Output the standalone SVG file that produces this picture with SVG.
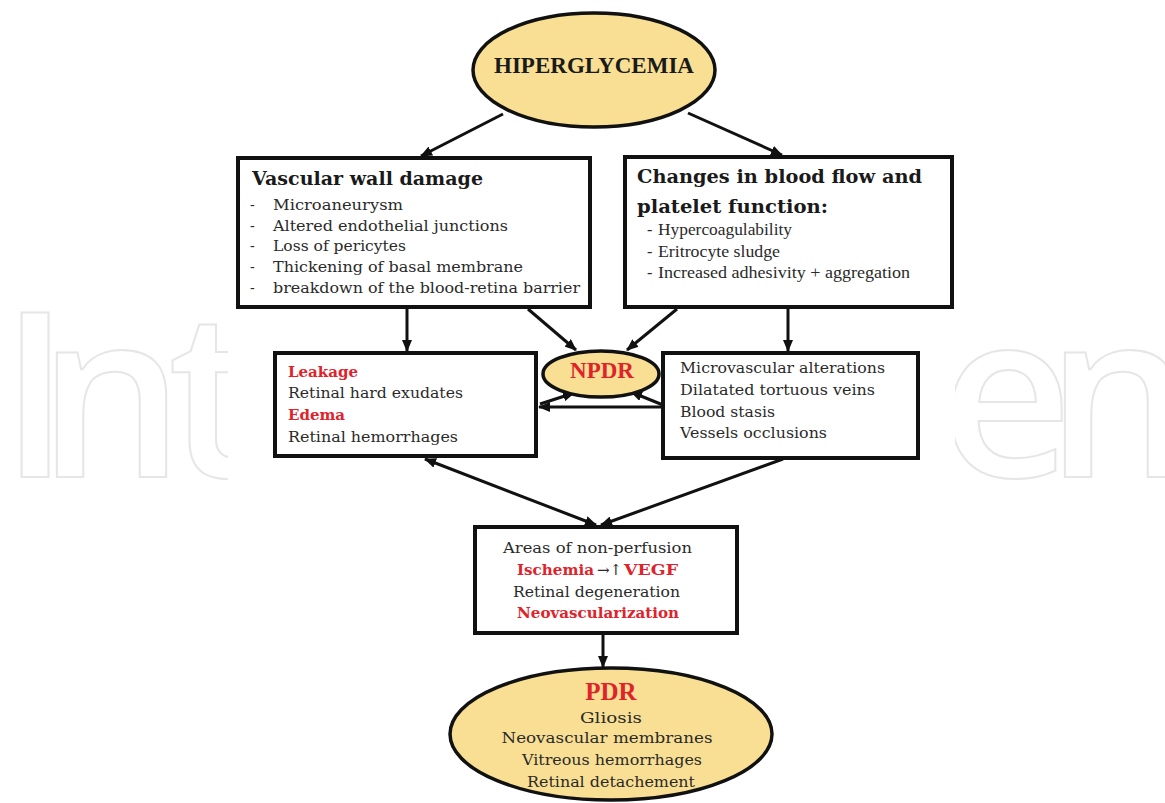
<svg xmlns="http://www.w3.org/2000/svg" width="1165" height="803" viewBox="0 0 1165 803">
<style>
.box{fill:#fff;stroke:#111;stroke-width:4}
.ell{fill:#f9df93;stroke:#111;stroke-width:3.5}
.t{font-family:"DejaVu Serif","Liberation Serif",serif;font-size:15px;fill:#2a2a2a}
.ti{font-family:"DejaVu Serif","Liberation Serif",serif;font-size:14px;fill:#2a2a2a}
.tt{font-family:"Liberation Serif","Times New Roman",serif;font-size:16px;fill:#2a2a2a}
.hd{font-family:"DejaVu Serif","Liberation Serif",serif;font-size:19px;font-weight:bold;fill:#1a1a1a}
.red{font-family:"DejaVu Serif","Liberation Serif",serif;font-size:15px;font-weight:bold;fill:#e0232b}
.big{font-family:"Liberation Serif","Times New Roman",serif;font-weight:bold}
.wm{font-family:"Open Sans","DejaVu Sans",sans-serif;font-weight:600;font-size:230px;fill:none;stroke:#e6e6e6;stroke-width:2}
.c{fill:none;stroke:#111;stroke-width:3}
</style>
<defs>
<marker id="ah" viewBox="0 0 12 10" refX="11" refY="5" markerWidth="12" markerHeight="10" markerUnits="userSpaceOnUse" orient="auto-start-reverse">
<path d="M0,0 L12,5 L0,10 z" fill="#111"/>
</marker>
<clipPath id="wmclip">
<rect x="0" y="0" width="228" height="803"/>
<rect x="955" y="0" width="210" height="803"/>
</clipPath>
</defs>
<rect width="1165" height="803" fill="#fff"/>
<g id="watermark" clip-path="url(#wmclip)">
<text class="wm" x="0" y="477">I</text>
<text class="wm" x="38" y="477">n</text>
<text class="wm" x="168" y="477">t</text>
<text class="wm" x="940" y="477">e</text>
<text class="wm" x="1046" y="477">n</text>
</g>
<g id="connectors">
<line class="c" x1="503" y1="114" x2="421" y2="156" marker-end="url(#ah)"/>
<line class="c" x1="688" y1="113" x2="782" y2="155" marker-end="url(#ah)"/>
<line class="c" x1="407" y1="309" x2="407" y2="351" marker-end="url(#ah)"/>
<line class="c" x1="528" y1="309" x2="576" y2="350" marker-end="url(#ah)"/>
<line class="c" x1="677" y1="309" x2="627" y2="350" marker-end="url(#ah)"/>
<line class="c" x1="788" y1="309" x2="788" y2="351" marker-end="url(#ah)"/>
<line class="c" x1="663" y1="407" x2="539" y2="407" marker-end="url(#ah)"/>
<line class="c" x1="540" y1="404" x2="574" y2="393" marker-end="url(#ah)"/>
<line class="c" x1="663" y1="405" x2="631" y2="392" marker-end="url(#ah)"/>
<line class="c" x1="425" y1="459" x2="596" y2="525" marker-start="url(#ah)" marker-end="url(#ah)"/>
<line class="c" x1="783" y1="459" x2="601" y2="525" marker-end="url(#ah)"/>
<line class="c" x1="603" y1="635" x2="603" y2="667" marker-end="url(#ah)"/>
</g>
<g id="hiperglycemia">
<ellipse class="ell" cx="594" cy="70" rx="121" ry="57"/>
<text class="big" x="594" y="73" font-size="23" text-anchor="middle" fill="#1a1a1a" textLength="200" lengthAdjust="spacingAndGlyphs">HIPERGLYCEMIA</text>
</g>
<g id="vascular">
<rect class="box" x="238" y="158" width="352" height="149"/>
<text class="hd" x="252" y="185" textLength="231" lengthAdjust="spacingAndGlyphs">Vascular wall damage</text>
<text class="ti" y="210"><tspan x="250">-</tspan><tspan x="273" textLength="130" lengthAdjust="spacingAndGlyphs">Microaneurysm</tspan></text>
<text class="ti" y="231"><tspan x="250">-</tspan><tspan x="273" textLength="235" lengthAdjust="spacingAndGlyphs">Altered endothelial junctions</tspan></text>
<text class="ti" y="251"><tspan x="250">-</tspan><tspan x="273" textLength="133" lengthAdjust="spacingAndGlyphs">Loss of pericytes</tspan></text>
<text class="ti" y="272"><tspan x="250">-</tspan><tspan x="273" textLength="250" lengthAdjust="spacingAndGlyphs">Thickening of basal membrane</tspan></text>
<text class="ti" y="293"><tspan x="250">-</tspan><tspan x="273" textLength="307" lengthAdjust="spacingAndGlyphs">breakdown of the blood-retina barrier</tspan></text>
</g>
<g id="bloodflow">
<rect class="box" x="625" y="157" width="327" height="150"/>
<text class="hd" x="637" y="183" textLength="285" lengthAdjust="spacingAndGlyphs">Changes in blood flow and</text>
<text class="hd" x="637" y="213" textLength="191" lengthAdjust="spacingAndGlyphs">platelet function:</text>
<text class="tt" y="235"><tspan x="647">-</tspan><tspan x="658" textLength="134" lengthAdjust="spacingAndGlyphs">Hypercoagulability</tspan></text>
<text class="tt" y="257"><tspan x="647">-</tspan><tspan x="658" textLength="122" lengthAdjust="spacingAndGlyphs">Eritrocyte sludge</tspan></text>
<text class="tt" y="278"><tspan x="647">-</tspan><tspan x="658" textLength="252" lengthAdjust="spacingAndGlyphs">Increased adhesivity + aggregation</tspan></text>
</g>
<g id="leakage">
<rect class="box" x="275" y="353" width="261" height="103"/>
<text class="red" x="288" y="377" textLength="70" lengthAdjust="spacingAndGlyphs">Leakage</text>
<text class="t" x="288" y="398" textLength="175" lengthAdjust="spacingAndGlyphs">Retinal hard exudates</text>
<text class="red" x="288" y="420" textLength="57" lengthAdjust="spacingAndGlyphs">Edema</text>
<text class="t" x="288" y="442" textLength="170" lengthAdjust="spacingAndGlyphs">Retinal hemorrhages</text>
</g>
<g id="npdr">
<ellipse class="ell" cx="601" cy="374" rx="58" ry="23"/>
<text class="big" x="602" y="378" font-size="23" text-anchor="middle" fill="#e0232b">NPDR</text>
</g>
<g id="microvascular">
<rect class="box" x="663" y="353" width="255" height="105"/>
<text class="t" x="680" y="373" textLength="205" lengthAdjust="spacingAndGlyphs">Microvascular alterations</text>
<text class="t" x="680" y="395" textLength="195" lengthAdjust="spacingAndGlyphs">Dilatated tortuous veins</text>
<text class="t" x="680" y="417" textLength="95" lengthAdjust="spacingAndGlyphs">Blood stasis</text>
<text class="t" x="680" y="438" textLength="147" lengthAdjust="spacingAndGlyphs">Vessels occlusions</text>
</g>
<g id="ischemia">
<rect class="box" x="475" y="527" width="262" height="106"/>
<text class="t" x="503" y="553" textLength="189" lengthAdjust="spacingAndGlyphs">Areas of non-perfusion</text>
<text class="red" x="517" y="575" textLength="77" lengthAdjust="spacingAndGlyphs">Ischemia</text>
<text class="t" x="597" y="575">→↑</text>
<text class="red" x="624" y="575" textLength="54" lengthAdjust="spacingAndGlyphs">VEGF</text>
<text class="t" x="513" y="597" textLength="167" lengthAdjust="spacingAndGlyphs">Retinal degeneration</text>
<text class="red" x="517" y="618" textLength="162" lengthAdjust="spacingAndGlyphs">Neovascularization</text>
</g>
<g id="pdr">
<ellipse class="ell" cx="611" cy="734" rx="161" ry="66"/>
<text class="big" x="611" y="700" font-size="25" text-anchor="middle" fill="#e0232b">PDR</text>
<text class="t" x="611" y="723" font-size="16" text-anchor="middle" textLength="62" lengthAdjust="spacingAndGlyphs">Gliosis</text>
<text class="t" x="607" y="743" font-size="16" text-anchor="middle" textLength="211" lengthAdjust="spacingAndGlyphs">Neovascular membranes</text>
<text class="t" x="612" y="765" font-size="16" text-anchor="middle" textLength="180" lengthAdjust="spacingAndGlyphs">Vitreous hemorrhages</text>
<text class="t" x="611" y="787" font-size="16" text-anchor="middle" textLength="168" lengthAdjust="spacingAndGlyphs">Retinal detachement</text>
</g>
</svg>
